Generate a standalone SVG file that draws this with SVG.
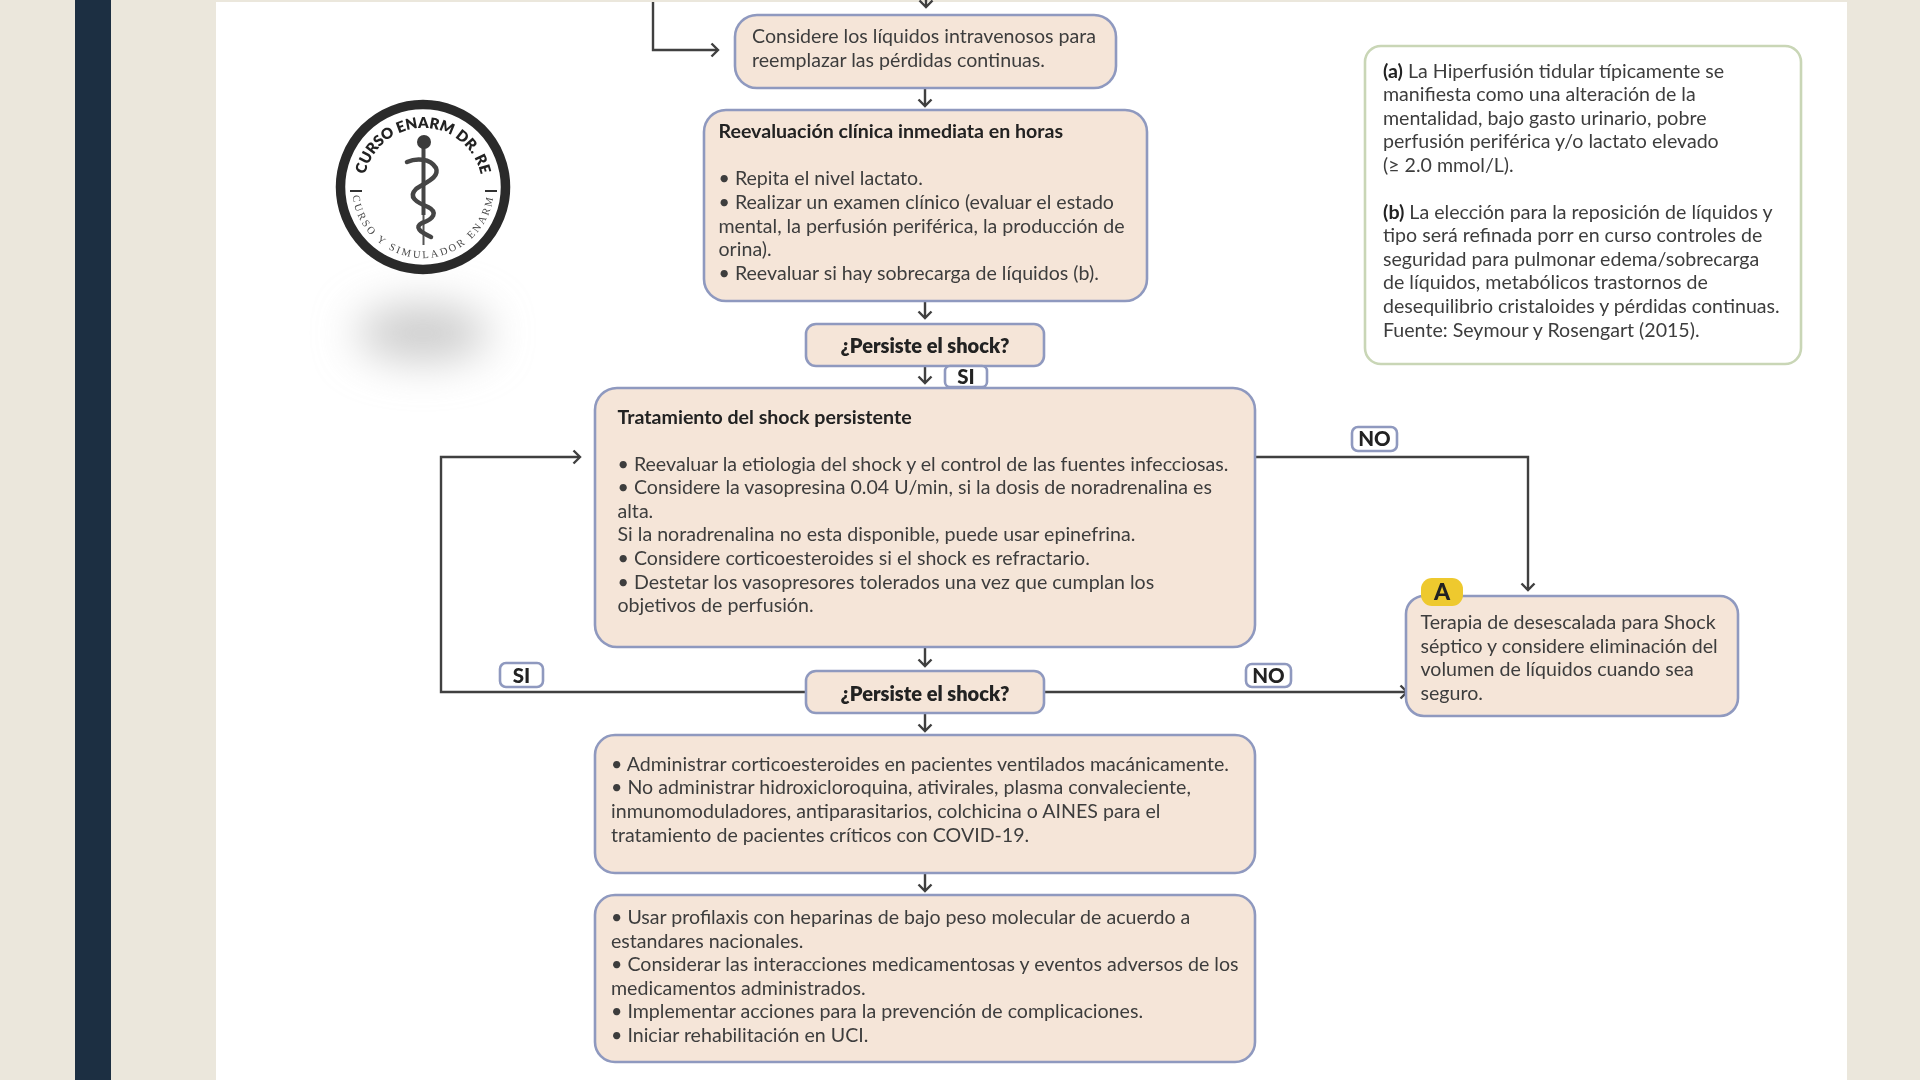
<svg xmlns="http://www.w3.org/2000/svg" width="1920" height="1080" viewBox="0 0 1920 1080">
<style>
text{font-family:"Lato","Noto Sans",sans-serif;font-size:19.6px;fill:#3d3d3d}
.b{font-weight:700;fill:#222}
.c{text-anchor:middle}
.p{font-size:20px;font-weight:800;fill:#222}
.t{font-size:20.5px;font-weight:900;fill:#222}
.box{fill:#f5e5d8;stroke:#8f99bf;stroke-width:2.6}
.tag{fill:#fff;stroke:#8f99bf;stroke-width:2.6}
.line{fill:none;stroke:#3f3f3f;stroke-width:2.4}
.arrow{marker-end:url(#v)}
.soft{filter:url(#s)}
</style>
<defs>
<marker id="v" viewBox="0 0 14 16" refX="11" refY="8" markerWidth="14" markerHeight="16" markerUnits="userSpaceOnUse" orient="auto"><path d="M4.5 1.5 L11 8 L4.5 14.5" fill="none" stroke="#3f3f3f" stroke-width="2.4"/></marker>
<filter id="s" x="-5%" y="-5%" width="110%" height="110%"><feGaussianBlur stdDeviation="0.55"/></filter>
<filter id="sh" x="-80%" y="-150%" width="260%" height="400%"><feGaussianBlur stdDeviation="22"/></filter>
<path id="arcTop" d="M364 187 A59 59 0 0 1 482 187"/>
<path id="arcBot" d="M352 187 A71 71 0 0 0 494 187"/>
</defs>
<rect width="1920" height="1080" fill="#ebe7dc"/>
<rect x="75" width="36" height="1080" fill="#1c2f42"/>
<rect x="216" y="2" width="1631" height="1078" fill="#fff"/>

<g id="logo">
<ellipse cx="423" cy="333" rx="66" ry="28" fill="#cbcbcb" filter="url(#sh)"/>
<g class="soft">
<circle cx="423" cy="187" r="82.5" fill="#fff" stroke="#2b2b2b" stroke-width="9.5"/>
<text class="c" style="font-size:15px;font-weight:800;fill:#222"><textPath href="#arcTop" startOffset="50%" textLength="160" lengthAdjust="spacing">CURSO ENARM DR. RE</textPath></text>
<text class="c" style="font-family:'Liberation Serif',serif;font-size:10.5px;fill:#4a4a4a;letter-spacing:2.4px"><textPath href="#arcBot" startOffset="50%">CURSO Y SIMULADOR ENARM</textPath></text>
<path d="M350 191H362M485 191H497" stroke="#333" stroke-width="1.8" fill="none"/>
<path d="M423.5 145V215" stroke="#444" stroke-width="4" fill="none"/>
<path d="M423.5 215V245" stroke="#555" stroke-width="2" fill="none"/>
<circle cx="424" cy="142" r="7" fill="#3a3a3a"/>
<path d="M407 162C416 158 430 158 436 168C440 178 424 183 416 189C408 197 416 202 428 207C438 212 434 219 422 223C414 227 420 232 431 237" fill="none" stroke="#444" stroke-width="4.5" stroke-linecap="round"/>
</g>
</g>

<g id="connectors" class="soft">
<path class="line arrow" d="M926 0V7"/>
<path class="line arrow" d="M653 2V50H718"/>
<path class="line arrow" d="M925 88V106"/>
<path class="line arrow" d="M925 301V318"/>
<path class="line arrow" d="M925 366V383"/>
<path class="line arrow" d="M925 647V666"/>
<path class="line arrow" d="M925 713V731"/>
<path class="line arrow" d="M925 873V891"/>
<path class="line arrow" d="M807 692H441V457H580"/>
<path class="line arrow" d="M1255 457H1528V590"/>
<path class="line arrow" d="M1045 692H1407"/>
</g>

<g class="soft">
<g id="n1"><rect class="box" x="735" y="15" width="381" height="73" rx="22"/>
<text><tspan x="752" y="43">Considere los líquidos intravenosos para</tspan><tspan x="752" y="67">reemplazar las pérdidas continuas.</tspan></text></g>

<g id="n2"><rect class="box" x="704" y="110" width="443" height="191" rx="22"/>
<text><tspan class="b" x="718.5" y="138">Reevaluación clínica inmediata en horas</tspan><tspan x="718.5" y="185">• Repita el nivel lactato.</tspan><tspan x="718.5" y="209">• Realizar un examen clínico (evaluar el estado</tspan><tspan x="718.5" y="232.5">mental, la perfusión periférica, la producción de</tspan><tspan x="718.5" y="256">orina).</tspan><tspan x="718.5" y="280">• Reevaluar si hay sobrecarga de líquidos (b).</tspan></text></g>

<g id="n3"><rect class="box" x="806" y="324" width="238" height="42" rx="10"/>
<text class="p c" x="925" y="353">¿Persiste el shock?</text></g>

<g id="l-si1"><rect class="tag" x="945" y="366" width="42" height="21" rx="5"/>
<text class="t c" x="966" y="384">SI</text></g>

<g id="n4"><rect class="box" x="595" y="388" width="660" height="259" rx="22"/>
<text><tspan class="b" x="617.5" y="424">Tratamiento del shock persistente</tspan><tspan x="617.5" y="471">• Reevaluar la etiologia del shock y el control de las fuentes infecciosas.</tspan><tspan x="617.5" y="494">• Considere la vasopresina 0.04 U/min, si la dosis de noradrenalina es</tspan><tspan x="617.5" y="518">alta.</tspan><tspan x="617.5" y="541">Si la noradrenalina no esta disponible, puede usar epinefrina.</tspan><tspan x="617.5" y="565">• Considere corticoesteroides si el shock es refractario.</tspan><tspan x="617.5" y="589">• Destetar los vasopresores tolerados una vez que cumplan los</tspan><tspan x="617.5" y="612">objetivos de perfusión.</tspan></text></g>

<g id="n5"><rect class="box" x="806" y="671" width="238" height="42" rx="10"/>
<text class="p c" x="925" y="700.5">¿Persiste el shock?</text></g>

<g id="l-si2"><rect class="tag" x="500" y="663" width="43" height="24" rx="6"/>
<text class="t c" x="521.5" y="682.5">SI</text></g>
<g id="l-no1"><rect class="tag" x="1352" y="427" width="45" height="24" rx="6"/>
<text class="t c" x="1374.5" y="446">NO</text></g>
<g id="l-no2"><rect class="tag" x="1246" y="664" width="45" height="23" rx="6"/>
<text class="t c" x="1268.5" y="683">NO</text></g>

<g id="n6"><rect class="box" x="595" y="735" width="660" height="138" rx="20"/>
<text><tspan x="611" y="771">• Administrar corticoesteroides en pacientes ventilados macánicamente.</tspan><tspan x="611" y="794">• No administrar hidroxicloroquina, ativirales, plasma convaleciente,</tspan><tspan x="611" y="818">inmunomoduladores, antiparasitarios, colchicina o AINES para el</tspan><tspan x="611" y="842">tratamiento de pacientes críticos con COVID-19.</tspan></text></g>

<g id="n7"><rect class="box" x="595" y="895" width="660" height="167" rx="20"/>
<text><tspan x="611" y="924">• Usar profilaxis con heparinas de bajo peso molecular de acuerdo a</tspan><tspan x="611" y="948">estandares nacionales.</tspan><tspan x="611" y="971">• Considerar las interacciones medicamentosas y eventos adversos de los</tspan><tspan x="611" y="995">medicamentos administrados.</tspan><tspan x="611" y="1018">• Implementar acciones para la prevención de complicaciones.</tspan><tspan x="611" y="1042">• Iniciar rehabilitación en UCI.</tspan></text></g>

<g id="n8"><rect class="box" x="1406" y="596" width="332" height="120" rx="18"/>
<rect x="1421" y="578" width="42" height="28" rx="11" fill="#eec92e"/>
<text class="t c" style="font-size:23px" x="1442" y="600">A</text>
<text><tspan x="1420.5" y="629">Terapia de desescalada para Shock</tspan><tspan x="1420.5" y="653">séptico y considere eliminación del</tspan><tspan x="1420.5" y="676">volumen de líquidos cuando sea</tspan><tspan x="1420.5" y="700">seguro.</tspan></text></g>

<g id="note"><rect x="1365" y="46" width="436" height="318" rx="16" fill="#fff" stroke="#c9d6b6" stroke-width="2.6"/>
<text><tspan class="b" x="1383" y="78">(a)</tspan><tspan> La Hiperfusión tidular típicamente se</tspan><tspan x="1383" y="101">manifiesta como una alteración de la</tspan><tspan x="1383" y="125">mentalidad, bajo gasto urinario, pobre</tspan><tspan x="1383" y="148">perfusión periférica y/o lactato elevado</tspan><tspan x="1383" y="172">(≥ 2.0 mmol/L).</tspan><tspan class="b" x="1383" y="219">(b)</tspan><tspan> La elección para la reposición de líquidos y</tspan><tspan x="1383" y="242">tipo será refinada porr en curso controles de</tspan><tspan x="1383" y="266">seguridad para pulmonar edema/sobrecarga</tspan><tspan x="1383" y="289">de líquidos, metabólicos trastornos de</tspan><tspan x="1383" y="313">desequilibrio cristaloides y pérdidas continuas.</tspan><tspan x="1383" y="337">Fuente: Seymour y Rosengart (2015).</tspan></text></g>
</g>
</svg>
